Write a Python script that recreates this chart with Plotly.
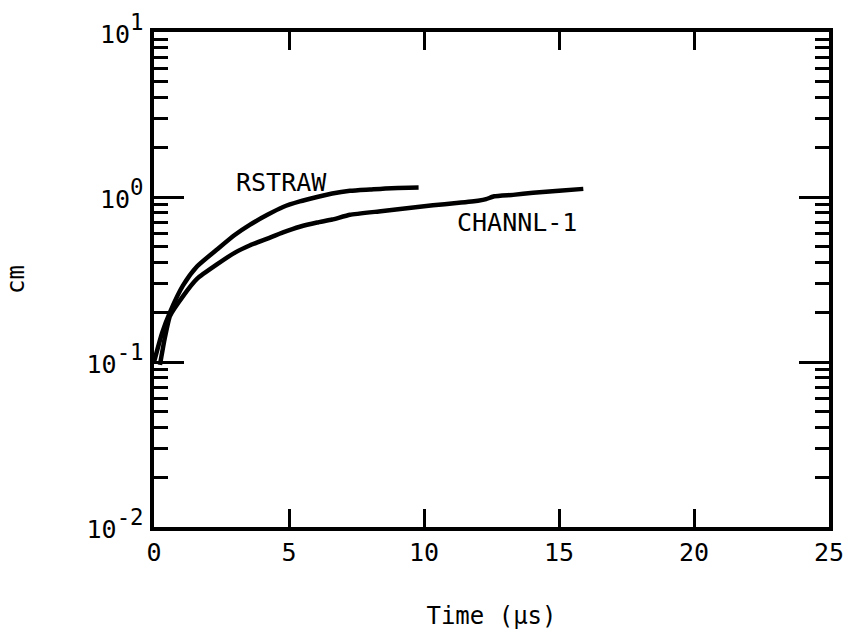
import math
import plotly.graph_objects as go

# Data
rstraw_t = [0.0, 0.3, 0.59, 1.07, 1.6, 2.33, 3.0, 3.56, 4.2, 4.78, 5.4, 6.04, 6.6, 7.26, 8.0, 8.8, 9.8]
rstraw_y = [0.10, 0.15, 0.20, 0.29, 0.38, 0.48, 0.59, 0.68, 0.78, 0.87, 0.94, 1.00, 1.05, 1.09, 1.11, 1.13, 1.14]

channl_t = [0.22, 0.4, 0.59, 1.07, 1.6, 2.33, 3.0, 3.56, 4.2, 4.78, 5.4, 6.04, 6.6, 7.26, 8.4,
            9.2, 10.33, 11.2, 12.0, 12.3, 12.6, 13.3, 14.04, 15.0, 15.9]
channl_y = [0.096, 0.14, 0.19, 0.25, 0.32, 0.39, 0.46, 0.51, 0.56, 0.61, 0.66, 0.70, 0.73, 0.78, 0.82,
            0.85, 0.89, 0.92, 0.95, 0.97, 1.01, 1.03, 1.06, 1.09, 1.12]

label_names = ["RSTRAW", "CHANNL-1"]
label_x = [4.74, 13.44]
label_y = [1.22, 0.70]

x_ticks = [0, 5, 10, 15, 20, 25]
y_ticks = [0.01, 0.1, 1, 10]
y_exponents = ["-2", "-1", "0", "1"]
y_minor = [m * 10 ** e for e in (-2, -1, 0) for m in range(2, 10)]

FONT = "DejaVu Sans Mono"
y_ticktext = ["<span style='font-size:25px'>10</span><sup>%s</sup>" % e for e in y_exponents]

fig = go.Figure()
fig.add_trace(go.Scatter(x=rstraw_t, y=rstraw_y, mode="lines", name="RSTRAW",
                         line=dict(color="black", width=4.5, shape="spline", smoothing=0.6)))
fig.add_trace(go.Scatter(x=channl_t, y=channl_y, mode="lines", name="CHANNL-1",
                         line=dict(color="black", width=4.5, shape="spline", smoothing=0.4)))

for name, lx, ly in zip(label_names, label_x, label_y):
    fig.add_annotation(x=lx, y=math.log10(ly), text=name, showarrow=False, xref="x", yref="y",
                       font=dict(family=FONT, size=25, color="black"))

fig.update_layout(
    width=846, height=630,
    margin=dict(l=154, r=17, t=32, b=103),
    paper_bgcolor="white", plot_bgcolor="white",
    showlegend=False,
    font=dict(family=FONT, size=24, color="black"),
)
fig.update_xaxes(
    range=[0, 25], tickvals=x_ticks, ticktext=[str(v) for v in x_ticks],
    ticks="inside", ticklen=18, tickwidth=3, tickcolor="black",
    showline=True, linewidth=4, linecolor="black", mirror="ticks",
    showgrid=False, zeroline=False, automargin=False,
    tickfont=dict(family=FONT, size=25, color="black"),
    title=dict(text="Time (µs)", font=dict(family=FONT, size=24, color="black"), standoff=42),
)
fig.update_yaxes(
    type="log", range=[-2, 1], tickvals=y_ticks, ticktext=y_ticktext,
    ticks="inside", ticklen=30, tickwidth=3, tickcolor="black",
    showline=True, linewidth=4, linecolor="black", mirror="ticks",
    showgrid=False, zeroline=False, automargin=False,
    minor=dict(tickvals=y_minor, ticks="inside", ticklen=14, tickwidth=3, tickcolor="black", showgrid=False),
    tickfont=dict(family=FONT, size=32, color="black"),
    title=dict(text="cm", font=dict(family=FONT, size=24, color="black"), standoff=56),
)

fig.write_html("out.html")
